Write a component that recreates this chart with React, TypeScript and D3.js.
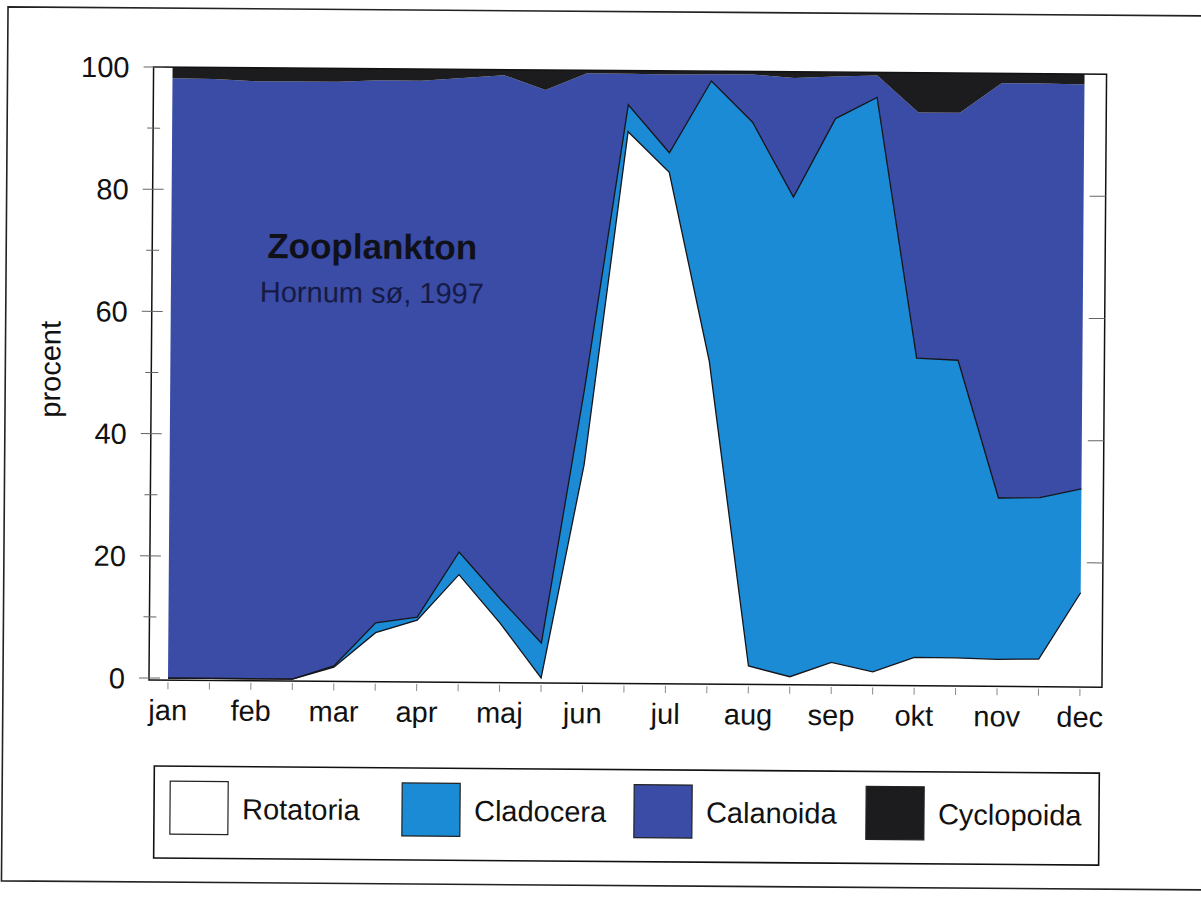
import React, { useEffect, useRef } from 'react';
import * as d3 from 'd3';

// month labels (one sample every half month -> 23 samplings)
const months = ['jan', 'feb', 'mar', 'apr', 'maj', 'jun', 'jul', 'aug', 'sep', 'okt', 'nov', 'dec'];
const yTicks = [0, 20, 40, 60, 80, 100];
const seriesNames = ['Rotatoria', 'Cladocera', 'Calanoida', 'Cyclopoida'];
const seriesColors = ['#ffffff', '#1b8bd5', '#3a4ca6', '#1c1c1f'];

// percent of total zooplankton per sampling
const rotatoria = [0, 0, 0, 0, 2.0, 7.7, 9.8, 17.3, 9.4, 0.5, 35.5, 90, 83.4, 52.5, 2.7, 1.0, 3.4, 1.9, 4.3, 4.3, 4.1, 4.2, 15.1];
const cladocera = [0, 0, 0, 0, 0.2, 1.6, 0.5, 3.7, 4.0, 5.7, 12.5, 4.4, 3.2, 45.9, 89.0, 78.5, 89.0, 94.0, 49.0, 48.7, 26.4, 26.4, 17.0];
const calanoida = [98.2, 98.1, 97.8, 97.8, 95.6, 88.8, 87.8, 77.6, 85.7, 90.5, 51.5, 5.1, 12.8, 1.1, 7.8, 19.5, 6.9, 3.6, 40.2, 40.5, 67.9, 67.8, 66.2];
const cyclopoida = [1.8, 1.9, 2.2, 2.2, 2.2, 1.9, 1.9, 1.4, 0.9, 3.3, 0.5, 0.5, 0.6, 0.5, 0.5, 1.0, 0.7, 0.5, 6.5, 6.5, 1.6, 1.6, 1.7];

const FONT = '"Liberation Sans", Arial, Helvetica, sans-serif';

const App = () => {
  const chartRef = useRef<HTMLDivElement>(null);

  useEffect(() => {
    drawChart(chartRef.current);
  }, []);

  const drawChart = (element: HTMLDivElement | null) => {
    if (!element) return;
    d3.select(element).select('svg').remove();

    const svg = d3.select(element)
      .append('svg')
      .attr('width', 1201)
      .attr('height', 911)
      .style('position', 'absolute')
      .style('left', 0)
      .style('top', 0)
      .style('background', '#fff');

    // the scanned page is a little tilted
    const g = svg.append('g').attr('transform', 'rotate(0.43 149 678)');

    // page border
    g.append('path')
      .attr('d', 'M1205,8 H3 V882 H1205')
      .attr('fill', 'none')
      .attr('stroke', '#222')
      .attr('stroke-width', 1.6);

    const rows = rotatoria.map((v, i) => ({
      Rotatoria: v,
      Cladocera: cladocera[i],
      Calanoida: calanoida[i],
      Cyclopoida: cyclopoida[i],
    }));

    const x = d3.scaleLinear().domain([0, rows.length - 1]).range([168, 1080]);
    const y = d3.scaleLinear().domain([0, 100]).range([678, 67]);

    const stacked = d3.stack<any>().keys(seriesNames)(rows);

    const area = d3.area<any>()
      .x((d, i) => x(i))
      .y0((d) => y(d[0]))
      .y1((d) => y(d[1]));

    g.selectAll('.layer')
      .data(stacked)
      .enter()
      .append('path')
      .attr('class', 'layer')
      .attr('d', area)
      .attr('fill', (d, i) => seriesColors[i]);

    // black outlines on top of Rotatoria and Cladocera
    const line = d3.line<any>()
      .x((d, i) => x(i))
      .y((d) => y(d[1]));
    g.selectAll('.edge')
      .data(stacked.slice(0, 2))
      .enter()
      .append('path')
      .attr('class', 'edge')
      .attr('d', line)
      .attr('fill', 'none')
      .attr('stroke', '#15151a')
      .attr('stroke-width', 1.3)
      .attr('stroke-linejoin', 'miter');

    // plot frame
    const right = 1102;
    g.append('path')
      .attr('d', `M149,${y(100)} H${right} V680 H149 Z`)
      .attr('fill', 'none')
      .attr('stroke', '#111')
      .attr('stroke-width', 1.5);

    // y ticks left (every 10) and right (every 20)
    d3.range(0, 101, 10).forEach((v) => {
      const major = v % 20 === 0;
      g.append('line')
        .attr('x1', major ? 139 : 143).attr('x2', major ? 160 : 156)
        .attr('y1', y(v)).attr('y2', y(v))
        .attr('stroke', '#666').attr('stroke-width', 1);
    });
    yTicks.slice(1, -1).forEach((v) => {
      g.append('line')
        .attr('x1', 1086).attr('x2', right)
        .attr('y1', y(v)).attr('y2', y(v))
        .attr('stroke', '#666').attr('stroke-width', 1);
    });

    g.selectAll('.ylab')
      .data(yTicks)
      .enter()
      .append('text')
      .attr('x', 125)
      .attr('y', (d) => y(d))
      .attr('dy', '0.36em')
      .attr('text-anchor', 'end')
      .attr('font-family', FONT)
      .attr('font-size', 29)
      .attr('fill', '#111')
      .text((d) => d);

    g.append('text')
      .attr('transform', 'translate(58, 370) rotate(-90)')
      .attr('text-anchor', 'middle')
      .attr('font-family', FONT)
      .attr('font-size', 29)
      .attr('fill', '#111')
      .text('procent');

    // x ticks at every sampling, month labels every second
    rows.forEach((d, i) => {
      g.append('line')
        .attr('x1', x(i)).attr('x2', x(i))
        .attr('y1', 682).attr('y2', 689)
        .attr('stroke', '#888').attr('stroke-width', 1);
    });
    g.selectAll('.mlab')
      .data(months)
      .enter()
      .append('text')
      .attr('x', (d, i) => x(i * 2))
      .attr('y', 720)
      .attr('text-anchor', 'middle')
      .attr('font-family', FONT)
      .attr('font-size', 29)
      .attr('fill', '#111')
      .text((d) => d);

    // title
    g.append('text')
      .attr('x', 369).attr('y', 257)
      .attr('text-anchor', 'middle')
      .attr('font-family', FONT)
      .attr('font-weight', 'bold')
      .attr('font-size', 35)
      .attr('fill', '#101018')
      .text('Zooplankton');
    g.append('text')
      .attr('x', 369).attr('y', 301)
      .attr('text-anchor', 'middle')
      .attr('font-family', FONT)
      .attr('font-size', 29)
      .attr('fill', '#161a45')
      .text('Hornum sø, 1997');

    // legend
    g.append('rect')
      .attr('x', 155).attr('y', 766)
      .attr('width', 945).attr('height', 92)
      .attr('fill', '#fff')
      .attr('stroke', '#111')
      .attr('stroke-width', 1.6);

    const legend = g.selectAll('.leg')
      .data(seriesNames)
      .enter()
      .append('g')
      .attr('transform', (d, i) => `translate(${171 + i * 232}, 781)`);
    legend.append('rect')
      .attr('width', 58).attr('height', 53)
      .attr('fill', (d, i) => seriesColors[i])
      .attr('stroke', '#222')
      .attr('stroke-width', 1.2);
    legend.append('text')
      .attr('x', 72).attr('y', 27)
      .attr('dy', '0.36em')
      .attr('font-family', FONT)
      .attr('font-size', 29)
      .attr('fill', '#111')
      .text((d) => d);
  };

  return <div ref={chartRef}></div>;
};

export default App;
